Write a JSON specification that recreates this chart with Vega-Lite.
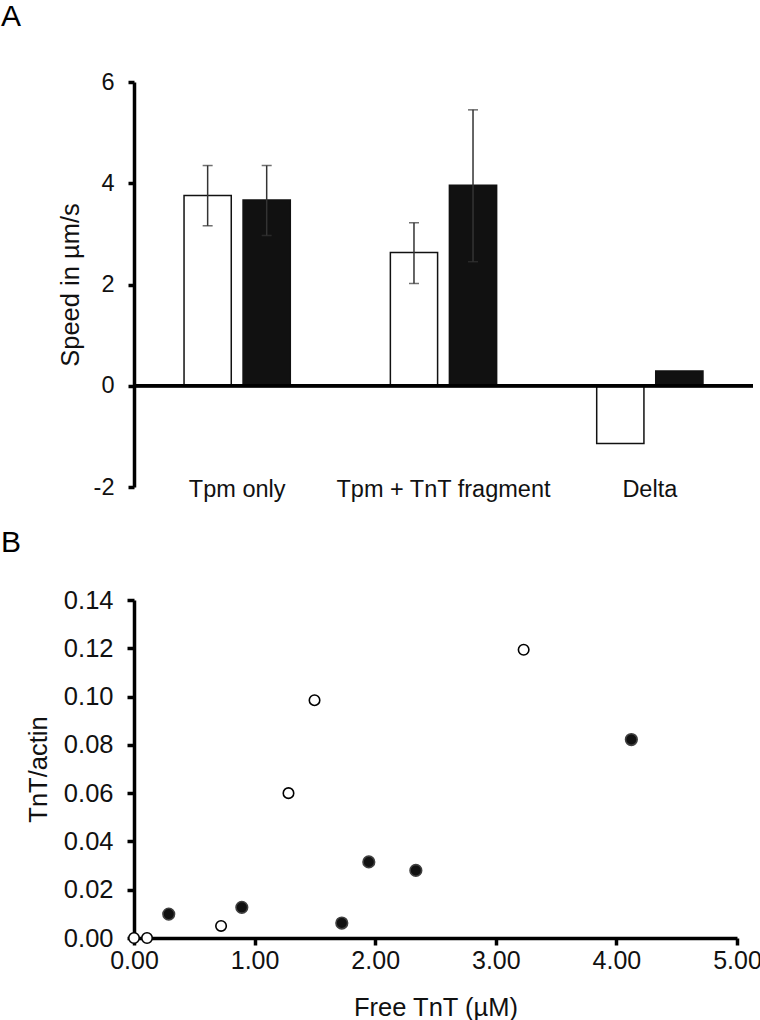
{
  "$schema": "https://vega.github.io/schema/vega-lite/v6.json",
  "padding": {"left": 1, "top": 2, "right": 0, "bottom": 5},
  "background": "white",
  "config": {
    "font": "Liberation Sans",
    "view": {"stroke": null},
    "axis": {"labelFont": "Liberation Sans", "titleFont": "Liberation Sans", "labelColor": "#111", "titleColor": "#111", "domainColor": "black", "tickColor": "black", "grid": false, "titleFontWeight": "normal", "labelFlush": false, "labelLimit": 0},
    "title": {"font": "Liberation Sans", "fontWeight": "normal", "fontSize": 30, "color": "black", "anchor": "start", "frame": "group"}
  },
  "spacing": 27,
  "vconcat": [
    {
      "title": {"text": "A", "dx": -133, "offset": 38},
      "width": 619,
      "height": 405,
      "data": {"values": [
        {"group": "Tpm only", "cond": "open", "speed": 3.76, "lo": 3.16, "hi": 4.35},
        {"group": "Tpm only", "cond": "filled", "speed": 3.67, "lo": 2.97, "hi": 4.35},
        {"group": "Tpm + TnT fragment", "cond": "open", "speed": 2.63, "lo": 2.02, "hi": 3.22},
        {"group": "Tpm + TnT fragment", "cond": "filled", "speed": 3.96, "lo": 2.45, "hi": 5.45},
        {"group": "Delta", "cond": "open", "speed": -1.14},
        {"group": "Delta", "cond": "filled", "speed": 0.29}
      ]},
      "encoding": {
        "x": {"field": "group", "type": "nominal", "sort": ["Tpm only", "Tpm + TnT fragment", "Delta"],
              "scale": {"paddingInner": 0.485, "paddingOuter": 0.2425},
              "axis": {"title": null, "domain": false, "ticks": false, "tickSize": 0, "labelAngle": 0, "labelFontSize": 23.5, "labelBaseline": "middle", "labelPadding": 2, "labelLimit": 0}},
        "xOffset": {"field": "cond", "type": "nominal", "sort": ["open", "filled"], "scale": {"paddingInner": 0.2, "paddingOuter": 0}}
      },
      "layer": [
        {
          "mark": {"type": "bar", "stroke": "#111", "strokeWidth": 1.5},
          "encoding": {
            "y": {"field": "speed", "type": "quantitative", "scale": {"domain": [-2, 6], "nice": false},
                  "axis": {"title": "Speed in µm/s", "values": [-2, 0, 2, 4, 6], "labelExpr": "datum.value", "labelFontSize": 23.5, "titleFontSize": 25.5, "domainWidth": 3.5, "tickWidth": 3.5, "tickSize": 6, "labelPadding": 14, "titlePadding": 10}},
            "fill": {"field": "cond", "type": "nominal", "scale": {"domain": ["open", "filled"], "range": ["white", "#111"]}, "legend": null}
          }
        },
        {
          "transform": [{"filter": "isValid(datum.lo)"}],
          "mark": {"type": "rule", "color": "#333", "strokeWidth": 1.5},
          "encoding": {"y": {"field": "lo", "type": "quantitative"}, "y2": {"field": "hi"}}
        },
        {
          "transform": [{"filter": "isValid(datum.lo)"}],
          "mark": {"type": "tick", "color": "#333", "thickness": 1.5, "size": 10, "orient": "horizontal"},
          "encoding": {"y": {"field": "lo", "type": "quantitative"}}
        },
        {
          "transform": [{"filter": "isValid(datum.hi)"}],
          "mark": {"type": "tick", "color": "#333", "thickness": 1.5, "size": 10, "orient": "horizontal"},
          "encoding": {"y": {"field": "hi", "type": "quantitative"}}
        },
        {
          "mark": {"type": "rule", "color": "black", "strokeWidth": 3},
          "encoding": {"y": {"datum": 0, "type": "quantitative"}, "x": null, "xOffset": null}
        }
      ]
    },
    {
      "title": {"text": "B", "dx": -133, "offset": 30},
      "width": 603,
      "height": 338,
      "data": {"values": [
        {"free": 0.0, "ratio": 0.0, "marker": "open"},
        {"free": 0.108, "ratio": 0.0, "marker": "open"},
        {"free": 0.722, "ratio": 0.005, "marker": "open"},
        {"free": 1.281, "ratio": 0.06, "marker": "open"},
        {"free": 1.497, "ratio": 0.0985, "marker": "open"},
        {"free": 3.231, "ratio": 0.1194, "marker": "open"},
        {"free": 0.288, "ratio": 0.0099, "marker": "filled"},
        {"free": 0.894, "ratio": 0.0127, "marker": "filled"},
        {"free": 1.723, "ratio": 0.0062, "marker": "filled"},
        {"free": 1.947, "ratio": 0.0315, "marker": "filled"},
        {"free": 2.337, "ratio": 0.028, "marker": "filled"},
        {"free": 4.124, "ratio": 0.0822, "marker": "filled"}
      ]},
      "mark": {"type": "point", "filled": false, "strokeWidth": 1.6, "opacity": 1},
      "encoding": {
        "x": {"field": "free", "type": "quantitative", "scale": {"domain": [0, 5], "nice": false, "zero": true},
              "axis": {"title": "Free TnT (µM)", "values": [0, 1, 2, 3, 4, 5], "format": ".2f", "labelFontSize": 25, "titleFontSize": 25.5, "domainWidth": 3.5, "tickWidth": 3.5, "tickSize": 7, "labelPadding": 3, "titlePadding": 22, "labelFlush": false}},
        "y": {"field": "ratio", "type": "quantitative", "scale": {"domain": [0, 0.14], "nice": false},
              "axis": {"title": "TnT/actin", "values": [0, 0.02, 0.04, 0.06, 0.08, 0.1, 0.12, 0.14], "format": ".2f", "labelFontSize": 25.5, "titleFontSize": 25.5, "domainWidth": 3.5, "tickWidth": 3.5, "tickSize": 7, "labelPadding": 14, "titlePadding": 12, "labelFlush": false}},
        "size": {"field": "marker", "type": "nominal", "scale": {"domain": ["open", "filled"], "range": [110, 135]}, "legend": null},
        "fill": {"field": "marker", "type": "nominal", "scale": {"domain": ["open", "filled"], "range": ["white", "#404040"]}, "legend": null},
        "stroke": {"field": "marker", "type": "nominal", "scale": {"domain": ["open", "filled"], "range": ["black", "#404040"]}, "legend": null}
      }
    }
  ]
}
